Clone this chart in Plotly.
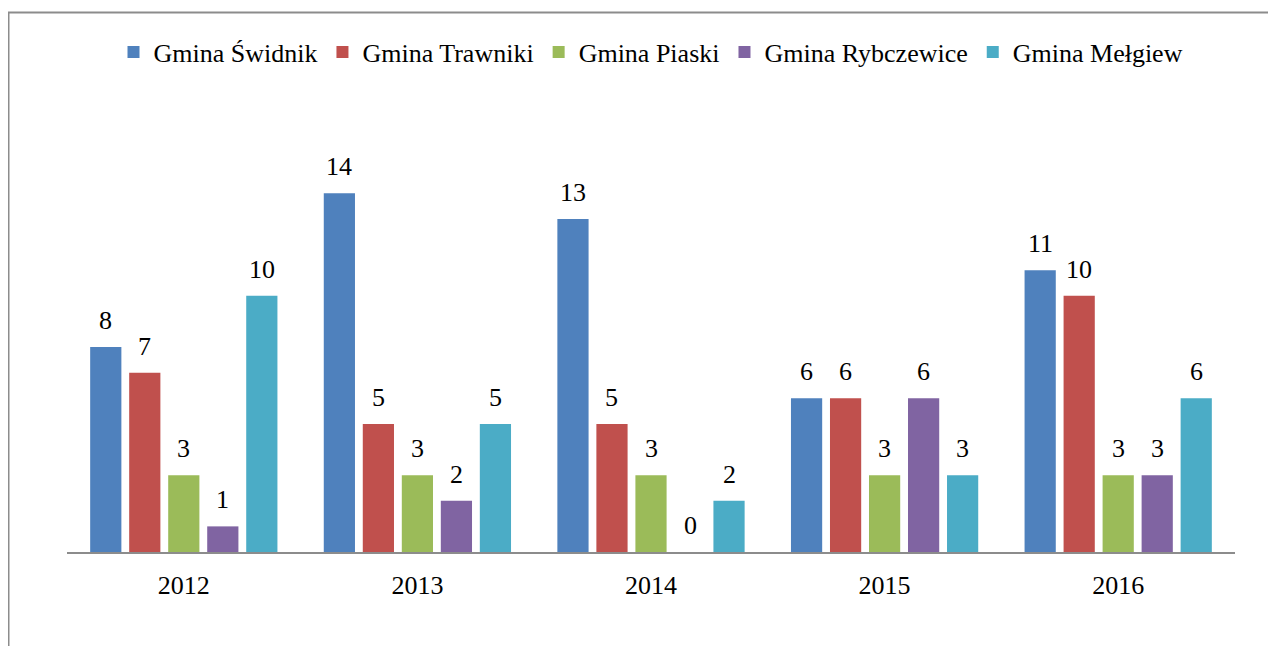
import plotly.graph_objects as go

years = ["2012", "2013", "2014", "2015", "2016"]
series_names = ["Gmina Świdnik", "Gmina Trawniki", "Gmina Piaski", "Gmina Rybczewice", "Gmina Mełgiew"]
swidnik = [8, 14, 13, 6, 11]
trawniki = [7, 5, 5, 6, 10]
piaski = [3, 3, 3, 3, 3]
rybczewice = [1, 2, 0, 6, 3]
melgiew = [10, 5, 2, 3, 6]
colors = ["#4F81BD", "#C0504D", "#9BBB59", "#8064A2", "#4BACC6"]

values = [swidnik, trawniki, piaski, rybczewice, melgiew]
FONT = "Liberation Serif, Times New Roman, serif"
FS = 26

OFF = 8  # page offset
W, H = 1276, 646
# screen-pixel plot area
SL, SR, ST, SB = 67, 1235, 142, 552
L = SL - OFF
T = ST - OFF
pw, ph = SR - SL, SB - ST
R = W - L - pw
B = H - T - ph

BARGAP = 0.165
nser = len(series_names)
slot = pw / len(years) * (1 - BARGAP) / nser

def px2x(px):
    return (px - SL) / pw

def py2y(py):
    return (SB - py) / ph

fig = go.Figure()
annotations = []
for i, (name, vals, col) in enumerate(zip(series_names, values, colors)):
    fig.add_trace(go.Bar(
        x=years, y=vals, name=name, marker=dict(color=col, line=dict(width=0)),
    ))
    for j, v in enumerate(vals):
        annotations.append(dict(
            x=j, y=v, xref="x", yref="y", text=str(v), showarrow=False,
            xshift=(i - (nser - 1) / 2) * slot, yanchor="bottom", yshift=10,
            font=dict(family=FONT, size=FS, color="black"),
        ))

fig.update_layout(
    width=W, height=H,
    margin=dict(l=L, r=R, t=T, b=B),
    paper_bgcolor="white", plot_bgcolor="white",
    barmode="group", bargap=BARGAP, bargroupgap=0.2,
    font=dict(family=FONT, size=FS, color="black"),
    showlegend=True,
    legend=dict(orientation="h", x=0.5, xanchor="center", y=py2y(52), yanchor="middle",
                font=dict(family=FONT, size=FS, color="black"), itemwidth=30,
                tracegroupgap=0, bgcolor="rgba(0,0,0,0)"),
    xaxis=dict(type="category", range=[-0.5, len(years) - 0.5], showline=True,
               linecolor="#8C8C8C", linewidth=2, showgrid=False,
               ticks="outside", ticklen=9, tickcolor="rgba(0,0,0,0)",
               tickfont=dict(family=FONT, size=FS, color="black"), fixedrange=True),
    yaxis=dict(range=[0, 16], visible=False, fixedrange=True),
    annotations=annotations,
    shapes=[dict(type="rect", xref="paper", yref="paper",
                 x0=px2x(8.5), x1=px2x(1300), y0=py2y(12.5), y1=py2y(680),
                 line=dict(color="#8C8C8C", width=2), layer="below")],
)

fig.write_html("out.html")
